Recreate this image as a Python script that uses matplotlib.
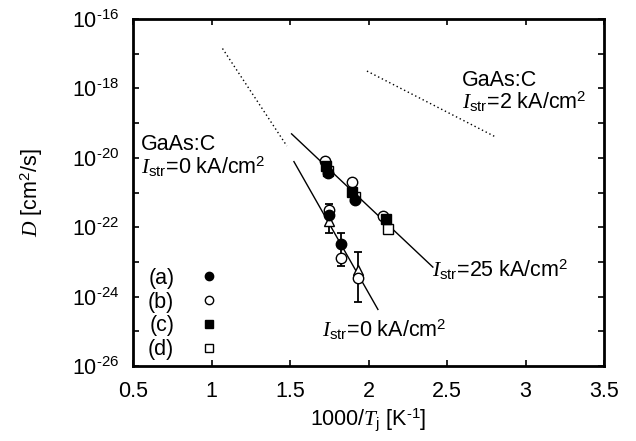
import numpy as np
import matplotlib
matplotlib.use("Agg")
import matplotlib.pyplot as plt
from matplotlib.ticker import FixedLocator, FuncFormatter

plt.rcParams['font.family'] = ['Liberation Sans', 'DejaVu Sans']
plt.rcParams['mathtext.fontset'] = 'custom'
plt.rcParams['mathtext.rm'] = 'Liberation Sans'
plt.rcParams['mathtext.it'] = 'Liberation Serif:italic'
plt.rcParams['mathtext.bf'] = 'Liberation Sans:bold'

# ---- data (log10 D) ----
a_x = [1.740, 1.914, 1.748, 1.823]
a_logD = [-20.44, -21.22, -21.66, -22.48]
b_x = [1.723, 1.897, 2.094, 1.748, 1.823, 1.935]
b_logD = [-20.08, -20.69, -21.68, -21.50, -22.89, -23.46]
c_x = [1.729, 1.893, 2.110]
c_logD = [-20.24, -20.98, -21.76]
d_x = [1.740, 1.914, 2.126]
d_logD = [-20.37, -21.12, -22.06]
tri_x = [1.748, 1.935]
tri_logD = [-21.82, -23.23]
err_x = [1.748, 1.823, 1.935]
err_lo = [-22.17, -23.12, -24.15]
err_hi = [-21.33, -22.18, -22.72]

fit25_x = [1.51, 2.41]
fit25_logD = [-19.31, -23.15]
fit0_x = [1.525, 2.06]
fit0_logD = [-20.11, -24.37]
dot0_x = [1.07, 1.48]
dot0_logD = [-16.85, -19.66]
dot2_x = [1.99, 2.81]
dot2_logD = [-17.50, -19.40]

labels = ['(a)', '(b)', '(c)', '(d)']
xticks = [0.5, 1, 1.5, 2, 2.5, 3, 3.5]
yticks_exp = [-26, -25, -24, -23, -22, -21, -20, -19, -18, -17, -16]

D = lambda v: 10.0 ** np.asarray(v)
FS = 15.5

fig = plt.figure(figsize=(6.36, 4.41), dpi=100)
ax = fig.add_axes([133/636, 1-366/441, 471/636, 347/441])
ax.set_yscale('log')

ax.plot(fit25_x, D(fit25_logD), color='black', lw=1.0, zorder=2)
ax.plot(fit0_x, D(fit0_logD), color='black', lw=1.0, zorder=2)
ax.plot(dot0_x, D(dot0_logD), color='black', lw=1.0, ls=(0, (1, 2)), zorder=2)
ax.plot(dot2_x, D(dot2_logD), color='black', lw=1.0, ls=(0, (1, 2)), zorder=2)

lo = D(err_lo)
hi = D(err_hi)
ax.errorbar(err_x, lo, yerr=[np.zeros(len(lo)), hi - lo], fmt='none',
            ecolor='black', elinewidth=1.3, capsize=3, capthick=1.3, zorder=3)

ms = 7.5
ax.plot(tri_x, D(tri_logD), ls='none', marker='^', ms=ms, mfc='white', mec='black', mew=1.0, zorder=4)
ax.plot(b_x, D(b_logD), ls='none', marker='o', ms=ms, mfc='white', mec='black', mew=1.0, zorder=4, label=labels[1])
ax.plot(d_x, D(d_logD), ls='none', marker='s', ms=6.5, mfc='white', mec='black', mew=1.0, zorder=5, label=labels[3])
ax.plot(c_x, D(c_logD), ls='none', marker='s', ms=6.5, mfc='black', mec='black', zorder=5, label=labels[2])
ax.plot(a_x, D(a_logD), ls='none', marker='o', ms=ms, mfc='black', mec='black', zorder=5, label=labels[0])

h, l = ax.get_legend_handles_labels()
order = [l.index(s) for s in labels]
leg = ax.legend([h[i] for i in order], [l[i] for i in order], loc='upper left',
                bbox_to_anchor=(0.032, 0.283), frameon=False, markerfirst=False,
                fontsize=FS, handlelength=1.0, handletextpad=1.1, labelspacing=0.13,
                borderpad=0, borderaxespad=0, markerscale=0.8)

ax.set_xlim(0.5, 3.5)
ax.set_ylim(1e-26, 1e-16)
ax.xaxis.set_major_locator(FixedLocator(xticks))
ax.xaxis.set_major_formatter(FuncFormatter(lambda v, p: ('%g' % v)))
ax.yaxis.set_major_locator(FixedLocator(D(yticks_exp)))
ax.yaxis.set_minor_locator(FixedLocator([]))

def yfmt(v, p):
    e = int(round(np.log10(v)))
    if e % 2:
        return ''
    return r'$\mathregular{10^{\text{-}%d}}$' % (-e)
ax.yaxis.set_major_formatter(FuncFormatter(yfmt))

ax.tick_params(which='both', direction='in', top=True, right=True, length=4,
               width=1.2, labelsize=FS)
ax.tick_params(axis='x', pad=11)
ax.tick_params(axis='y', pad=10)
for s in ax.spines.values():
    s.set_linewidth(2.0)

ax.set_xlabel(r'1000/$T_{\mathrm{j}}$ [K$^{\text{-}1}$]', fontsize=FS, labelpad=3)
ax.set_ylabel(r'$D$ [cm$^2$/s]', fontsize=FS, labelpad=19)

ax.text(0.017, 0.637, 'GaAs:C', transform=ax.transAxes, fontsize=FS, va='center', ha='left')
ax.text(0.017, 0.573, r'$I_{\mathrm{str}}$=0 kA/cm$^2$', transform=ax.transAxes, fontsize=FS, va='center', ha='left')
ax.text(0.698, 0.824, 'GaAs:C', transform=ax.transAxes, fontsize=FS, va='center', ha='left')
ax.text(0.698, 0.761, r'$I_{\mathrm{str}}$=2 kA/cm$^2$', transform=ax.transAxes, fontsize=FS, va='center', ha='left')
ax.text(0.635, 0.277, r'$I_{\mathrm{str}}$=25 kA/cm$^2$', transform=ax.transAxes, fontsize=FS, va='center', ha='left')
ax.text(0.401, 0.104, r'$I_{\mathrm{str}}$=0 kA/cm$^2$', transform=ax.transAxes, fontsize=FS, va='center', ha='left')

fig.savefig('out.png', dpi=100)
